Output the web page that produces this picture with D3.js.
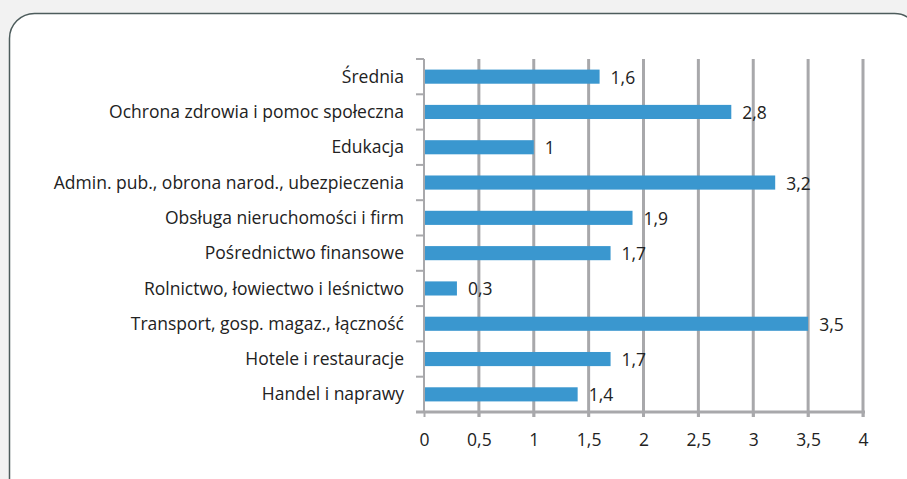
<!DOCTYPE html>
<html>
<head>
<meta charset="utf-8">
<script src="https://cdn.jsdelivr.net/npm/d3@7"></script>
<style>
  body { margin: 0; background: #f2f2f2; }
  text { font-family: "Open Sans", sans-serif; fill: #222; }
</style>
</head>
<body>
<div id="chart"></div>
<script>
var categories = [
  "Średnia",
  "Ochrona zdrowia i pomoc społeczna",
  "Edukacja",
  "Admin. pub., obrona narod., ubezpieczenia",
  "Obsługa nieruchomości i firm",
  "Pośrednictwo finansowe",
  "Rolnictwo, łowiectwo i leśnictwo",
  "Transport, gosp. magaz., łączność",
  "Hotele i restauracje",
  "Handel i naprawy"
];
var values = [1.6, 2.8, 1, 3.2, 1.9, 1.7, 0.3, 3.5, 1.7, 1.4];
var valueLabels = ["1,6", "2,8", "1", "3,2", "1,9", "1,7", "0,3", "3,5", "1,7", "1,4"];
var xTicks = [0, 0.5, 1, 1.5, 2, 2.5, 3, 3.5, 4];

var w = 907;
var h = 479;
var plotLeft = 424, plotRight = 863, plotTop = 59, plotBottom = 412;
var fontSize = '17.5px';

var svg = d3.select('#chart')
  .append('svg')
  .attr('width', w)
  .attr('height', h)
  .style('display', 'block');

// frame
svg.append('rect')
  .attr('x', 9.5).attr('y', 13.5)
  .attr('width', 910).attr('height', 520)
  .attr('rx', 25).attr('ry', 25)
  .attr('fill', '#ffffff')
  .attr('stroke', '#4d5c5c')
  .attr('stroke-width', 1.5);

var x = d3.scaleLinear().domain([0, 4]).range([plotLeft, plotRight]);
var y = d3.scaleBand().domain(categories).range([plotTop, plotBottom]).paddingInner(0.6).paddingOuter(0.3);

var grey = '#a8a8ab';

// vertical gridlines
svg.selectAll('.grid')
  .data(xTicks.slice(1))
  .enter()
  .append('line')
  .attr('x1', function (d) { return x(d); })
  .attr('x2', function (d) { return x(d); })
  .attr('y1', plotTop)
  .attr('y2', plotBottom + 5)
  .attr('stroke', grey)
  .attr('stroke-width', 3);

// bottom axis
var xAxis = svg.append('g')
  .attr('transform', 'translate(0,' + plotBottom + ')')
  .call(d3.axisBottom(x).tickValues(xTicks).tickSize(5).tickSizeOuter(0)
    .tickFormat(function (d) { return String(d).replace('.', ','); }));
xAxis.select('.domain').remove();
xAxis.selectAll('line').attr('stroke', grey).attr('stroke-width', 2);
xAxis.selectAll('text').attr('font-size', fontSize).attr('dy', '0').attr('y', 34)
  .attr('font-family', '"Open Sans", sans-serif').attr('fill', '#222');
svg.append('line')
  .attr('x1', plotLeft - 8).attr('x2', plotRight + 2)
  .attr('y1', plotBottom).attr('y2', plotBottom)
  .attr('stroke', grey).attr('stroke-width', 3);

// left axis with boundary ticks
var bounds = categories.map(function (c) { return y(c) - y.step() * y.paddingInner() / 2; });
bounds.push(plotBottom);
svg.append('line')
  .attr('x1', plotLeft).attr('x2', plotLeft)
  .attr('y1', plotTop).attr('y2', plotBottom)
  .attr('stroke', grey).attr('stroke-width', 2);
svg.selectAll('.ytick')
  .data(bounds)
  .enter()
  .append('line')
  .attr('x1', plotLeft - 8).attr('x2', plotLeft)
  .attr('y1', function (d) { return d; })
  .attr('y2', function (d) { return d; })
  .attr('stroke', grey).attr('stroke-width', 2);

// bars
svg.selectAll('.bar')
  .data(values)
  .enter()
  .append('rect')
  .attr('x', x(0) + 1)
  .attr('y', function (d, i) { return y(categories[i]); })
  .attr('width', function (d) { return x(d) - x(0) - 1; })
  .attr('height', y.bandwidth())
  .attr('fill', '#3a97cf');

// value labels
svg.selectAll('.val')
  .data(values)
  .enter()
  .append('text')
  .text(function (d, i) { return valueLabels[i]; })
  .attr('x', function (d) { return x(d) + 11; })
  .attr('y', function (d, i) { return y(categories[i]) + y.bandwidth() / 2; })
  .attr('dy', '.4em')
  .attr('font-size', fontSize);

// category labels
svg.selectAll('.cat')
  .data(categories)
  .enter()
  .append('text')
  .text(function (d) { return d; })
  .attr('x', 404)
  .attr('y', function (d) { return y(d) + y.bandwidth() / 2; })
  .attr('dy', '.35em')
  .attr('text-anchor', 'end')
  .attr('font-size', fontSize);
</script>
</body>
</html>
